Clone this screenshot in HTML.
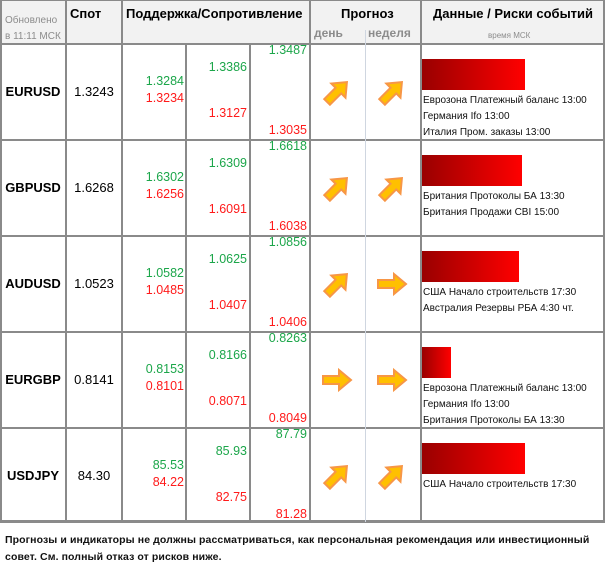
<!DOCTYPE html>
<html><head><meta charset="utf-8"><style>
*{margin:0;padding:0;box-sizing:border-box}
body{width:605px;height:569px;background:#fff;position:relative;overflow:hidden;font-family:"Liberation Sans","DejaVu Sans",sans-serif}
.a{position:absolute}
.hl{position:absolute;height:2px;background:#8a8a8a}
.vl{position:absolute;width:2px;background:#8a8a8a}
.n{position:absolute;font-size:12.5px;line-height:14px;text-align:right}
.g{color:#1ca64a}.r{color:#ff1a1a}
.ev{position:absolute;left:423px;font-size:10px;line-height:15px;color:#111;white-space:nowrap}
.bar{position:absolute;height:31px;background:linear-gradient(to right,#990000,#ff0000)}
</style></head><body>
<div class="a" style="left:0;top:0;width:605px;height:44px;background:#f2f2f2"></div>
<div class="a" style="left:0;top:0;width:605px;height:523px;border:2px solid #8a8a8a;border-top:1px solid #8a8a8a"></div>
<div class="hl" style="left:0;top:43px;width:605px"></div>
<div class="hl" style="left:0;top:139px;width:605px"></div>
<div class="hl" style="left:0;top:235px;width:605px"></div>
<div class="hl" style="left:0;top:331px;width:605px"></div>
<div class="hl" style="left:0;top:427px;width:605px"></div>
<div class="hl" style="left:0;top:520px;width:605px;height:3px"></div>
<div class="vl" style="left:65px;top:0;height:522px"></div>
<div class="vl" style="left:121px;top:0;height:522px"></div>
<div class="vl" style="left:185px;top:43px;height:479px"></div>
<div class="vl" style="left:249px;top:43px;height:479px"></div>
<div class="vl" style="left:309px;top:0;height:522px"></div>
<div class="a" style="left:365px;top:30px;width:1px;height:492px;background:#cfd6e0"></div>
<div class="vl" style="left:420px;top:0;height:522px"></div>
<div class="a" style="left:5px;top:13px;font-size:10px;color:#8c8c8c;line-height:16px">Обновлено<br>в 11:11 МСК</div>
<div class="a" style="left:70px;top:6px;font-size:13px;font-weight:bold">Спот</div>
<div class="a" style="left:126px;top:6px;font-size:13px;font-weight:bold">Поддержка/Сопротивление</div>
<div class="a" style="left:341px;top:6px;font-size:13px;font-weight:bold">Прогноз</div>
<div class="a" style="left:314px;top:26px;font-size:12px;font-weight:bold;color:#8c8c8c">день</div>
<div class="a" style="left:368px;top:26px;font-size:12px;font-weight:bold;color:#8c8c8c">неделя</div>
<div class="a" style="left:433px;top:6px;font-size:13px;font-weight:bold">Данные / Риски событий</div>
<div class="a" style="left:488px;top:31px;font-size:8px;color:#8c8c8c">время МСК</div>
<svg width="0" height="0" style="position:absolute"><defs><path id="ar" d="M-14,-4H2V-10L14,0L2,10V4H-14Z" fill="#ffc000" stroke="#f79646" stroke-width="2" stroke-linejoin="miter"/></defs></svg>
<div id="rows"></div>
<script>
const R=[
["EURUSD","1.3243",["1.3284","1.3234"],["1.3386","1.3127"],["1.3487","1.3035"],-45,-45,103,["Еврозона Платежный баланс 13:00","Германия Ifo 13:00","Италия Пром. заказы 13:00"]],
["GBPUSD","1.6268",["1.6302","1.6256"],["1.6309","1.6091"],["1.6618","1.6038"],-45,-45,100,["Британия Протоколы БА 13:30","Британия Продажи CBI 15:00"]],
["AUDUSD","1.0523",["1.0582","1.0485"],["1.0625","1.0407"],["1.0856","1.0406"],-45,0,97,["США Начало строительств 17:30","Австралия Резервы РБА 4:30 чт."]],
["EURGBP","0.8141",["0.8153","0.8101"],["0.8166","0.8071"],["0.8263","0.8049"],0,0,29,["Еврозона Платежный баланс 13:00","Германия Ifo 13:00","Британия Протоколы БА 13:30"]],
["USDJPY","84.30",["85.53","84.22"],["85.93","82.75"],["87.79","81.28"],-45,-45,103,["США Начало строительств 17:30"]]];
let h='';
R.forEach((r,i)=>{const t=43+i*96;
h+=`<div class="a" style="left:0;width:66px;text-align:center;top:${t+41}px;font-size:13px;font-weight:bold">${r[0]}</div>`;
h+=`<div class="a" style="left:66px;width:56px;text-align:center;top:${t+41}px;font-size:13px">${r[1]}</div>`;
const n=(x,y,v,c)=>`<div class="n ${c}" style="left:${x-60}px;width:60px;top:${t+y-7}px">${v}</div>`;
h+=n(184,38,r[2][0],'g')+n(184,55,r[2][1],'r')+n(247,24,r[3][0],'g')+n(247,70,r[3][1],'r')+n(307,7,r[4][0],'g')+n(307,87,r[4][1],'r');
const cy=t+49;
h+=`<svg class="a" style="left:0;top:0" width="605" height="569"><use href="#ar" transform="translate(337,${cy}) rotate(${r[5]})"/><use href="#ar" transform="translate(392,${cy}) rotate(${r[6]})"/></svg>`;
h+=`<div class="bar" style="left:422px;top:${t+16}px;width:${r[7]}px"></div>`;
r[8].forEach((e,j)=>{h+=`<div class="ev" style="top:${t+50+j*16}px">${e}</div>`});
});
document.getElementById('rows').innerHTML=h;
</script>
<div class="a" style="left:5px;top:532px;font-size:10.5px;font-weight:bold;line-height:17px;color:#111;white-space:nowrap;letter-spacing:0.1px">Прогнозы и индикаторы не должны рассматриваться, как персональная рекомендация или инвестиционный<br>совет. См. полный отказ от рисков ниже.</div>
</body></html>
